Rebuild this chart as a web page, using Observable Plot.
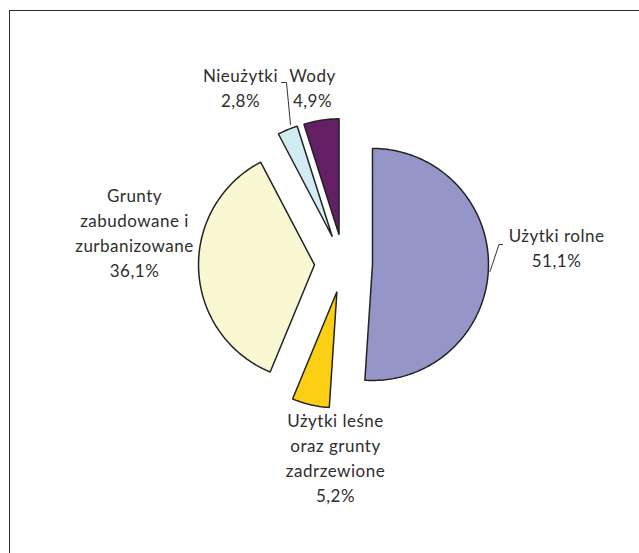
<!DOCTYPE html>
<html>
<head>
<meta charset="utf-8">
<script src="https://cdn.jsdelivr.net/npm/d3@7"></script>
<script src="https://cdn.jsdelivr.net/npm/@observablehq/plot@0.6"></script>
<style>
  html, body { margin: 0; padding: 0; background: #fff; }
  #wrap { position: relative; width: 639px; height: 553px; overflow: hidden; }
  #frame { position: absolute; left: 9px; top: 10px; width: 700px; height: 700px;
           border-top: 1.6px solid #2a2a2a; border-left: 1.6px solid #2a2a2a; pointer-events: none; }
  svg { position: absolute; left: 0; top: 0; }
  svg text { letter-spacing: 0.5px; }
</style>
</head>
<body>
<div id="wrap"><div id="frame"></div></div>
<script>
// ---- data ----
const categories = ["Użytki rolne", "Użytki leśne oraz grunty zadrzewione", "Grunty zabudowane i zurbanizowane", "Nieużytki", "Wody"];
const labelText = ["Użytki rolne\n51,1%", "Użytki leśne\noraz grunty\nzadrzewione\n5,2%", "Grunty\nzabudowane i\nzurbanizowane\n36,1%", "Nieużytki\n2,8%", "Wody\n4,9%"];
const shares = [51.1, 5.2, 36.1, 2.8, 4.9];
const colors = ["#9595c8", "#fccf14", "#faf8d2", "#d2ecf3", "#641f64"];

// ---- layout (pixels) ----
const W = 639, H = 553;
const CX = 343, CY = 263, R = 116, EXPLODE = 29;
const labelPos = [[556, 246], [335, 455.5], [134, 230.5], [240, 85.5], [312, 85.5]];
const leaders = [
  [[502, 244], [498.5, 244], [489.5, 271]],
  null, null,
  [[281, 82], [286, 82], [290, 124]],
  null
];

// unit coordinates (centre 0,0 radius 1, y up)
const toUx = px => (px - CX) / R;
const toUy = py => (CY - py) / R;
const e = EXPLODE / R;

const arcs = d3.pie().sort(null).value(d => d)(shares);
const marks = [];
arcs.forEach((a, i) => {
  const mid = (a.startAngle + a.endAngle) / 2;
  const ox = Math.sin(mid) * e, oy = Math.cos(mid) * e;
  const pts = [{x: ox, y: oy}];
  const n = Math.max(4, Math.ceil((a.endAngle - a.startAngle) / (Math.PI / 180)));
  for (let k = 0; k <= n; k++) {
    const t = a.startAngle + (a.endAngle - a.startAngle) * k / n;
    pts.push({x: ox + Math.sin(t), y: oy + Math.cos(t)});
  }
  marks.push(Plot.line(pts, {x: "x", y: "y", curve: "linear-closed", fill: colors[i],
    stroke: "#222", strokeWidth: 1.5, strokeLinejoin: "miter"}));
});

leaders.forEach(l => {
  if (!l) return;
  marks.push(Plot.line(l.map(([px, py]) => ({x: toUx(px), y: toUy(py)})),
    {x: "x", y: "y", stroke: "#333", strokeWidth: 1}));
});

const labels = labelText.map((t, i) => ({text: t, x: toUx(labelPos[i][0]), y: toUy(labelPos[i][1])}));
marks.push(Plot.text(labels, {x: "x", y: "y", text: "text", fill: "#2e2e2e",
  fontSize: 17, lineHeight: 25 / 17, textAnchor: "middle", lineAnchor: "middle",
  fontFamily: "Lato, 'Open Sans', sans-serif"}));

const chart = Plot.plot({
  width: W, height: H,
  margin: 0,
  x: {domain: [toUx(0), toUx(W)], axis: null},
  y: {domain: [toUy(H), toUy(0)], axis: null},
  style: {background: "transparent", overflow: "visible"},
  marks
});
document.getElementById("wrap").insertBefore(chart, document.getElementById("frame"));
</script>
</body>
</html>
